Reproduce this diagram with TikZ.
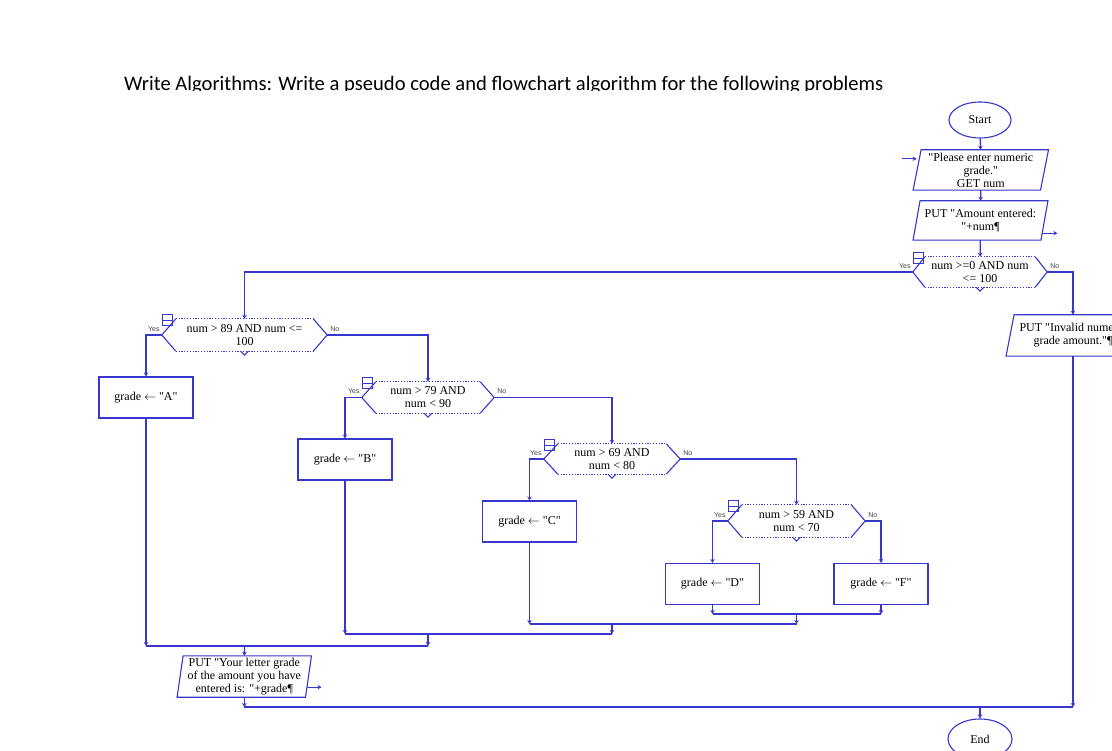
\documentclass[tikz,border=0pt]{standalone}
\usepackage{fontspec}
\setmainfont{Liberation Serif}
\newfontfamily\bodyfont{Liberation Serif}
\newfontfamily\titlefont{Carlito}
\newfontfamily\labfont{Liberation Sans}
\usetikzlibrary{calc,arrows.meta,shapes.geometric}
\definecolor{rb}{RGB}{55,55,205}
\newcommand\qq{\symbol{34}}
\tikzset{
  shp/.style={draw=rb, line width=1.1pt},
  dotln/.style={draw=rb, line width=0.8pt, dash pattern=on 1.2pt off 1.6pt},
  conn/.style={draw=rb, line width=1.3pt},
  arr/.style={conn, -{Stealth[length=4pt,width=4.5pt]}},
  txt/.style={font=\bodyfont\fontsize{12}{13}\selectfont, align=center, inner sep=0pt},
  dec/.style={txt, draw=none, shape=rectangle},
  asg/.style={txt, shp, shape=rectangle, minimum width=94pt, minimum height=41pt},
  iob/.style={txt, draw=none, shape=rectangle},
  term/.style={txt, shp, shape=ellipse},
  yesno/.style={font=\labfont\fontsize{7}{8}\selectfont, inner sep=0pt, text=black!75},
}
\newcommand\rapdec[2]{%
  \draw[dotln] ($(#1.north west)+(#2,0)$) -- ($(#1.north east)+(-#2,0)$);
  \draw[dotln] ($(#1.south west)+(#2,0)$) -- ($(#1.south east)+(-#2,0)$);
  \draw[shp] ($(#1.north west)+(#2,0)$) -- (#1.west) -- ($(#1.south west)+(#2,0)$);
  \draw[shp] ($(#1.north east)+(-#2,0)$) -- (#1.east) -- ($(#1.south east)+(-#2,0)$);
  \draw[shp] ($(#1.south)+(-4,0)$) -- ($(#1.south)+(0,4)$) -- ($(#1.south)+(4,0)$);
  \draw[draw=rb, line width=1pt] ($(#1.north west)+(0.5,-4)$) rectangle ($(#1.north west)+(10.5,7)$);
  \draw[draw=rb, line width=1pt] ($(#1.north west)+(0.5,1.5)$) -- ($(#1.north west)+(10.5,1.5)$);
  \node[yesno, anchor=east] (#1-yes) at ($(#1.west)+(-2,-6)$) {Yes};
  \node[yesno, anchor=west] (#1-no) at ($(#1.east)+(3,-6)$) {No};
}
\newcommand\rapio[2]{%
  \draw[shp] ($(#1.south west)+(-#2,0)$) -- ($(#1.north west)+(#2,0)$) -- ($(#1.north east)+(#2,0)$) -- ($(#1.south east)+(-#2,0)$) -- cycle;
}
\begin{document}
\begin{tikzpicture}[x=1pt, y=-1pt]
\useasboundingbox (0,0) rectangle (1112,751);
\clip (0,0) rectangle (1112,751);
\fill[white] (0,0) rectangle (1112,751);

% title (cut at its bottom)
\begin{scope}
  \clip (100,60) rectangle (900,90.6);
  \node[anchor=base west, inner sep=0pt, font=\titlefont\fontsize{20.6}{21}\selectfont] (title) at (124,90.2)
    {Write Algorithms: Write a pseudo code and flowchart algorithm for the following problems};
\end{scope}

% terminals and I/O
\node[term, minimum width=62pt, minimum height=36pt] (start) at (980,120) {Start};
\node[iob, minimum width=127pt, minimum height=40pt] (in1) at (980.8,170) {\qq Please enter numeric\\grade.\qq\\GET num};
\rapio{in1}{4}
\node[iob, minimum width=127.5pt, minimum height=39pt] (out1) at (980.5,220.5) {PUT \qq Amount entered:\\\qq+num¶};
\rapio{out1}{3.5}
\node[iob, minimum width=125.5pt, minimum height=41pt] (inv) at (1073,335.5) {PUT \qq Invalid numeric\\grade amount.\qq¶};
\rapio{inv}{4}
\node[iob, minimum width=128pt, minimum height=41pt] (put) at (244.3,676.5) {PUT \qq Your letter grade\\of the amount you have\\entered is: \qq+grade¶};
\rapio{put}{3}
\node[term, minimum width=64pt, minimum height=40pt] (end) at (980,739) {End};

% decisions
\node[dec, minimum width=134pt, minimum height=30pt] (d1) at (980,272) {num >=0 AND num\\<= 100};
\rapdec{d1}{12}
\node[dec, minimum width=165pt, minimum height=32pt] (d2) at (244.5,335) {num > 89 AND num <=\\100};
\rapdec{d2}{14}
\node[dec, minimum width=132pt, minimum height=31pt] (d3) at (428,397.5) {num > 79 AND\\num < 90};
\rapdec{d3}{14}
\node[dec, minimum width=136pt, minimum height=30pt] (d4) at (612,459) {num > 69 AND\\num < 80};
\rapdec{d4}{14}
\node[dec, minimum width=137pt, minimum height=32pt] (d5) at (796.5,521) {num > 59 AND\\num < 70};
\rapdec{d5}{14}

% assignments
\node[asg] (ga) at (146,397.5) {grade \(\leftarrow\) \qq A\qq};
\node[asg] (gb) at (345,459.5) {grade \(\leftarrow\) \qq B\qq};
\node[asg] (gc) at (529.5,521.5) {grade \(\leftarrow\) \qq C\qq};
\node[asg] (gd) at (712.5,584) {grade \(\leftarrow\) \qq D\qq};
\node[asg] (gf) at (881,584) {grade \(\leftarrow\) \qq F\qq};

% I/O side arrows
\coordinate (inA) at ($(in1.north west)+(-15,9)$);
\draw[arr] (inA) -- ($(in1.north west)+(-0.5,9)$);
\coordinate (outA) at ($(out1.south east)+(13,-7)$);
\draw[arr] ($(out1.south east)+(-2,-7)$) -- (outA);
\coordinate (putA) at ($(put.south east)+(13,-10)$);
\draw[arr] ($(put.south east)+(-2,-10)$) -- (putA);

% main flow
\draw[arr] (start) -- (in1);
\draw[arr] (in1) -- (out1);
\draw[arr] (out1) -- (d1);
\draw[arr] (d1.west) -| (d2.north);
\draw[arr] (d1.east) -| (inv.north);
\draw[arr] (d2.west) -| (ga.north);
\draw[arr] (d2.east) -| (d3.north);
\draw[arr] (d3.west) -| (gb.north);
\draw[arr] (d3.east) -| (d4.north);
\draw[arr] (d4.west) -| (gc.north);
\draw[arr] (d4.east) -| (d5.north);
\draw[arr] (d5.west) -| (gd.north);
\draw[arr] (d5.east) -| (gf.north);

% joins
\coordinate (j5) at (796.5,614);
\coordinate (j4) at (612,624);
\coordinate (j3) at (428,634);
\coordinate (j2) at (244.5,646);
\coordinate (j1) at (980,707);
\draw[arr] (gd.south) -- (gd.south |- j5);
\draw[arr] (gf.south) -- (gf.south |- j5);
\draw[conn] (gd.south |- j5) -- (gf.south |- j5);
\draw[arr] (j5) -- (j5 |- j4);
\draw[arr] (gc.south) -- (gc.south |- j4);
\draw[conn] (gc.south |- j4) -- (j5 |- j4);
\draw[arr] (j4) -- (j4 |- j3);
\draw[arr] (gb.south) -- (gb.south |- j3);
\draw[conn] (gb.south |- j3) -- (j4 |- j3);
\draw[arr] (j3) -- (j3 |- j2);
\draw[arr] (ga.south) -- (ga.south |- j2);
\draw[conn] (ga.south |- j2) -- (j3 |- j2);
\draw[arr] (j2) -- (put.north);
\draw[arr] (put.south) -- (put.south |- j1);
\draw[arr] (inv.south) -- (inv.south |- j1);
\draw[conn] (put.south |- j1) -- (inv.south |- j1);
\draw[arr] (j1) -- (end.north);
\end{tikzpicture}
\end{document}
